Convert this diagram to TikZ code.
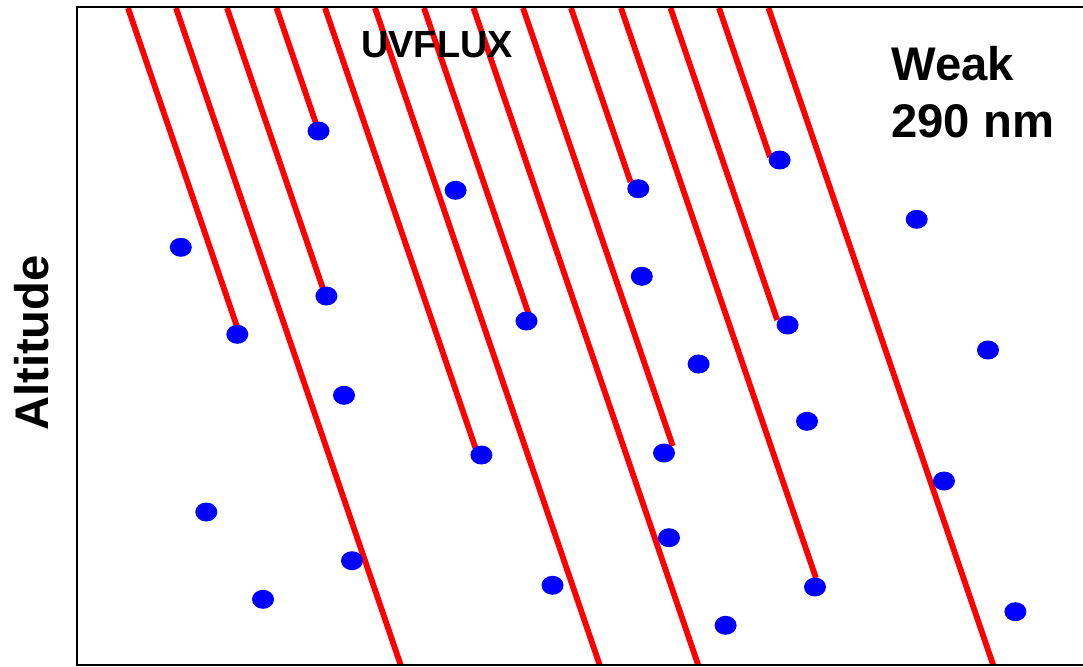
\documentclass[tikz,border=0pt]{standalone}
\usepackage{fontspec}
\setmainfont{Liberation Sans}
\usepackage{tikz}
\usetikzlibrary{positioning}
\definecolor{rayred}{RGB}{255,0,0}
\definecolor{molblue}{RGB}{0,0,255}

\begin{document}
\begin{tikzpicture}[x=0.5pt, y=-0.5pt,
    ray/.style={draw=rayred, line width=2.9pt},
    mol/.style={fill=molblue},
    frame/.style={draw=black, line width=1pt},
    big/.style={font=\fontsize{23.6}{28.5}\selectfont\bfseries, inner sep=0pt},
    small/.style={font=\fontsize{18.9}{22}\selectfont\bfseries, inner sep=0pt}
]
    \useasboundingbox (0,0) rectangle (1083,666);

    % rays: start x at top / end y
    \foreach \xa/\yb in {128/330, 176/665, 227/290, 276.5/125, 325/448,
        375/665, 424/315, 473.5/665, 523/446, 571/182, 621/578,
        670.5/320, 719/157, 768.5/665}
        \draw[ray] (\xa,8) -- ({\xa+0.342*(\yb-8)},\yb);

    % molecules
    \foreach \px/\py in {318.5/131, 455.6/190.3, 180.8/247.3, 326.4/296,
        237.3/334.3, 526.5/321, 638.3/188.7, 779.6/160, 916.7/219.3,
        641.8/276.3, 787.6/325, 344/395.3, 481.4/455, 206.3/512,
        352/560.7, 263/599.3, 698.6/364, 988/350, 807/421.3, 664/453,
        944/481, 669/537.7, 552.5/585.3, 815/587, 725.6/625.3, 1015.4/611.7}
        \fill[mol] (\px,\py) ellipse [x radius=5.5pt, y radius=4.75pt];

    \draw[frame] (1083,7) -- (77,7) -- (77,665) -- (1083,665);

    \node[small, anchor=base west] (uvflux) at (361,57) {UVFLUX};
    \node[big, anchor=north west, align=left] (weak) at (891,46) {Weak\\290 nm};
    \node[big, anchor=base, rotate=90] (alt) at (48,343) {Altitude};
\end{tikzpicture}
\end{document}
